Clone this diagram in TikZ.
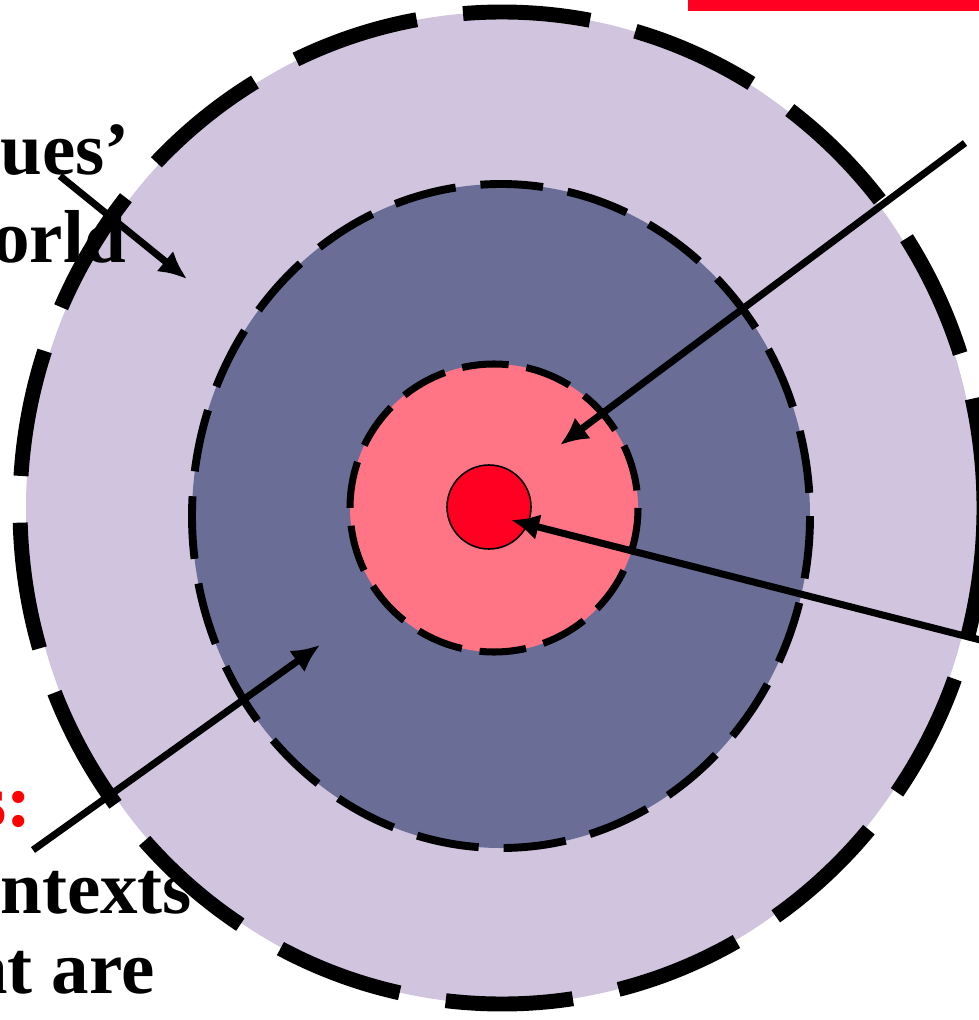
\documentclass[tikz,border=0pt]{standalone}
\usepackage{fontspec}
\setmainfont{Liberation Serif}
\usepackage{xcolor}
\usetikzlibrary{arrows.meta}
\definecolor{lilac}{HTML}{D0C4DE}
\definecolor{slate}{HTML}{6A6D96}
\definecolor{rose}{HTML}{FF7585}
\definecolor{corered}{HTML}{FF0022}
\definecolor{labelred}{HTML}{FF0000}

\begin{document}
\begin{tikzpicture}[x=0.02cm, y=-0.02cm,
  >={Latex[length=16pt, width=15pt]},
  pointer/.style={->, line width=4pt},
  lbl/.style={anchor=base west, inner sep=0pt, font=\fontsize{42.7}{50}\selectfont\bfseries}]
  \useasboundingbox (0,0) rectangle (979,1020);
  \clip (0,0) rectangle (979,1020);
  % rings, outside in
  \fill[lilac] (502,508) ellipse [x radius=476, y radius=496];
  \draw[line width=8.5pt, dash pattern=on 72.6pt off 26.6pt] (502,508) ellipse [x radius=482, y radius=496];
  \fill[slate] (501,516) ellipse [x radius=309, y radius=332];
  \draw[line width=4.5pt, dash pattern=on 35.7pt off 14.2pt] (501,516) ellipse [x radius=309, y radius=332];
  \fill[rose] (494,508) circle [radius=144];
  \draw[line width=4pt, dash pattern=on 26.6pt off 10.2pt] (494,508) circle [radius=144];
  \draw[fill=corered, line width=0.9pt] (489,507) circle [radius=42];
  % bar at the top
  \fill[corered] (688,0) rectangle (979,11);
  % labels (cut at the left edge)
  \node[lbl] (values) at (0,175) {ues’};
  \node[lbl] (world) at (-8,263) {orld};
  \node[lbl, text=labelred] (colon) at (-23,826) {s:};
  \node[lbl] (contexts) at (0,913) {ntexts};
  \node[lbl] (thatare) at (-30,993) {at are};
  % arrow ends
  \coordinate (a1) at (60,176);
  \coordinate (b1) at (187,279);
  \coordinate (a2) at (965,143);
  \coordinate (b2) at (560,445);
  \coordinate (a3) at (1000,645);
  \coordinate (b3) at (511,520);
  \coordinate (a4) at (33,850);
  \coordinate (b4) at (320,645);
  \draw[pointer] (a1) -- (b1);
  \draw[pointer] (a2) -- (b2);
  \draw[pointer] (a3) -- (b3);
  \draw[pointer] (a4) -- (b4);
\end{tikzpicture}
\end{document}
